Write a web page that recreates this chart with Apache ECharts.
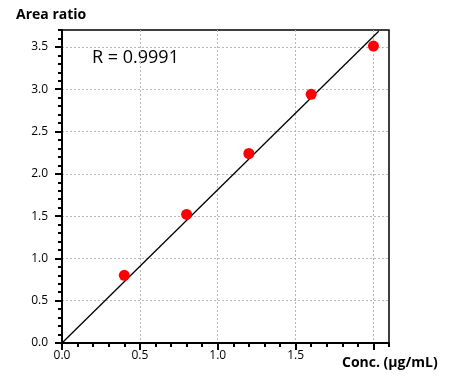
<!DOCTYPE html>
<html><head><meta charset="utf-8">
<script src="https://cdn.jsdelivr.net/npm/echarts@6/dist/echarts.min.js"></script>
<style>html,body{margin:0;padding:0;background:#fff}#c{width:466px;height:377px}</style>
</head><body><div id="c"></div>
<script>
// Data
const concentrations = [0.4, 0.8, 1.2, 1.6, 2.0];
const areaRatios = [0.80, 1.52, 2.24, 2.94, 3.51];
const fitLineX = [0, 2.034];
const fitLineY = [0, 3.686];
const xMajorTicks = [0, 0.5, 1.0, 1.5, 2.0];
const xTickLabels = [0, 0.5, 1.0, 1.5];
const yTickLabels = [0, 0.5, 1.0, 1.5, 2.0, 2.5, 3.0, 3.5];
const rText = 'R = 0.9991';
const xTitle = 'Conc. (\u03bcg/mL)';
const yTitle = 'Area ratio';

const FONT = '"Open Sans", sans-serif';
const XMAX = 2.1, YMAX = 3.7;

const chart = echarts.init(document.getElementById('c'), null, {renderer: 'canvas'});
const scatterData = concentrations.map((x, i) => [x, areaRatios[i]]);
const lineData = fitLineX.map((x, i) => [x, fitLineY[i]]);

const fmt = v => Number(v).toFixed(1);

chart.setOption({
  animation: false,
  backgroundColor: '#fff',
  grid: {left: 62, top: 30, right: 77, bottom: 34, show: true, borderColor: '#000', borderWidth: 1.5, containLabel: false},
  xAxis: [
    {
      type: 'value', min: 0, max: XMAX, interval: 0.5,
      axisLine: {show: true, onZero: false, lineStyle: {color: '#000', width: 2}},
      axisTick: {show: true, inside: false, length: 7, lineStyle: {color: '#000', width: 2}, customValues: xMajorTicks},
      axisLabel: {show: true, margin: 7, fontFamily: FONT, fontSize: 12, color: '#000', formatter: fmt, customValues: xTickLabels},
      splitLine: {show: true, lineStyle: {color: '#b8b8b8', type: [2, 2], width: 1}}
    },
    {
      type: 'value', min: 0, max: XMAX, interval: 0.1, position: 'bottom',
      axisLine: {show: false},
      axisTick: {show: true, inside: false, length: 4, lineStyle: {color: '#000', width: 2}},
      axisLabel: {show: false},
      splitLine: {show: false}
    }
  ],
  yAxis: [
    {
      type: 'value', min: 0, max: YMAX, interval: 0.5,
      axisLine: {show: true, onZero: false, lineStyle: {color: '#000', width: 2}},
      axisTick: {show: true, inside: false, length: 7, lineStyle: {color: '#000', width: 2}, customValues: yTickLabels},
      axisLabel: {show: true, margin: 14, fontFamily: FONT, fontSize: 12, color: '#000', formatter: fmt, customValues: yTickLabels},
      splitLine: {show: true, lineStyle: {color: '#b8b8b8', type: [2, 2], width: 1}}
    },
    {
      type: 'value', min: 0, max: YMAX, interval: 0.1, position: 'left',
      axisLine: {show: false},
      axisTick: {show: true, inside: false, length: 4, lineStyle: {color: '#000', width: 2}},
      axisLabel: {show: false},
      splitLine: {show: false}
    }
  ],
  series: [
    {
      type: 'line', data: lineData, xAxisIndex: 0, yAxisIndex: 0,
      showSymbol: false, symbol: 'none', lineStyle: {color: '#000', width: 1.3}, z: 3
    },
    {
      type: 'scatter', data: scatterData, xAxisIndex: 0, yAxisIndex: 0,
      symbol: 'circle', symbolSize: 11, itemStyle: {color: '#ff0000', opacity: 1}, z: 4
    }
  ],
  graphic: [
    {type: 'text', left: 16, top: 8, style: {text: yTitle, font: 'bold 14px ' + FONT, fill: '#000'}},
    {type: 'text', left: 342, top: 356, style: {text: xTitle, font: 'bold 14px ' + FONT, fill: '#000'}},
    {type: 'text', left: 92, top: 49, style: {text: rText, font: '18px ' + FONT, fill: '#000'}}
  ]
});
</script></body></html>
